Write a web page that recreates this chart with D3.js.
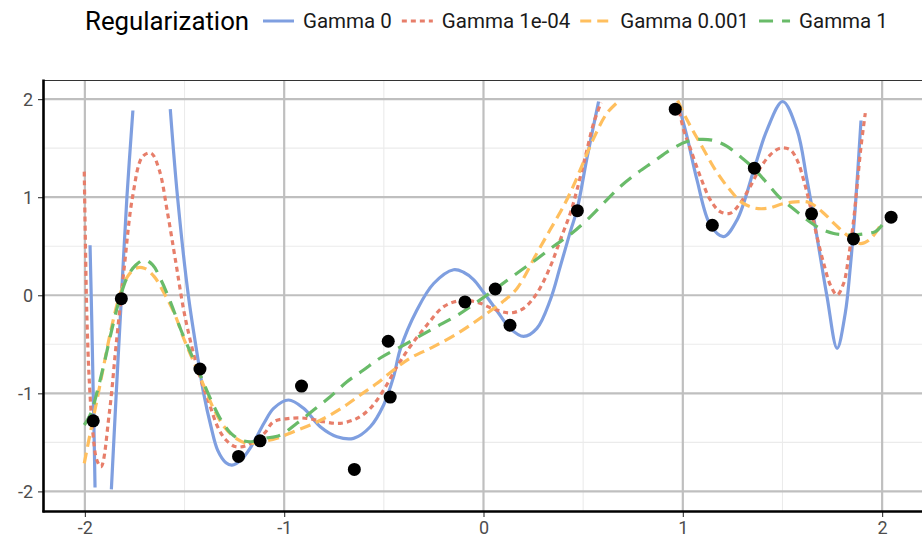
<!DOCTYPE html>
<html>
<head>
<meta charset="utf-8">
<script src="https://cdn.jsdelivr.net/npm/d3@7"></script>
<style>
  body { margin: 0; background: #fff; }
  text { font-family: Roboto, "Liberation Sans", sans-serif; }
</style>
</head>
<body>
<script>
// observed data points
const obsX = [-1.958, -1.817, -1.4225, -1.229, -1.121, -0.913, -0.648, -0.478, -0.468, -0.093,
              0.059, 0.133, 0.471, 0.962, 1.148, 1.359, 1.646, 1.856, 2.045];
const obsY = [-1.28, -0.035, -0.752, -1.643, -1.484, -0.926, -1.776, -0.469, -1.038, -0.068,
              0.064, -0.306, 0.863, 1.898, 0.714, 1.296, 0.83, 0.574, 0.796];

// fitted curves (null = curve leaves the y range)
const gamma0 = [
  [-1.974, 0.51], [-1.966, -0.2], [-1.958, -1.0], [-1.953, -1.5], [-1.949, -1.96], null,
  [-1.867, -1.98], [-1.8425, -1.0], [-1.817, -0.035], [-1.789, 1.0], [-1.759, 1.884], null,
  [-1.5715, 1.898], [-1.535, 1.0], [-1.481, 0.0], [-1.4245, -0.752], [-1.404, -1.0], [-1.367, -1.341],
  [-1.334, -1.579], [-1.292, -1.708], [-1.262, -1.732], [-1.217, -1.681], [-1.1665, -1.545],
  [-1.1, -1.3], [-1.053, -1.153], [-0.978, -1.068], [-0.9025, -1.153], [-0.819, -1.341],
  [-0.735, -1.443], [-0.652, -1.459], [-0.568, -1.341], [-0.501, -1.119], [-0.451, -0.83],
  [-0.4175, -0.55], [-0.334, -0.15], [-0.25, 0.12], [-0.15, 0.26], [-0.1, 0.235], [-0.05, 0.16],
  [0.0, 0.03], [0.068, -0.16], [0.1345, -0.34], [0.201, -0.42], [0.268, -0.337], [0.335, -0.048],
  [0.385, 0.292], [0.4355, 0.649], [0.469, 0.87], [0.519, 1.398], [0.5775, 1.976], null,
  [0.976, 1.959], [1.021, 1.618], [1.071, 1.177], [1.138, 0.717], [1.205, 0.598], [1.272, 0.768],
  [1.359, 1.296], [1.4225, 1.687], [1.501, 1.976], [1.573, 1.687], [1.623, 1.177], [1.673, 0.598],
  [1.7235, -0.014], [1.774, -0.541], [1.815, -0.184], [1.8405, 0.292], [1.8655, 0.904], [1.894, 1.782]
];
const gamma1e4 = [
  [-2.003, 1.261], [-1.997, 0.5], [-1.99, -0.2], [-1.978, -0.864], [-1.96, -1.4], [-1.94, -1.68],
  [-1.919, -1.749], [-1.8775, -1.204], [-1.844, -0.524], [-1.802, 0.292], [-1.7605, 1.006],
  [-1.7105, 1.414], [-1.668, 1.449], [-1.627, 1.279], [-1.585, 0.837], [-1.543, 0.327],
  [-1.501, -0.184], [-1.451, -0.626], [-1.4175, -0.864], [-1.376, -1.102], [-1.334, -1.341],
  [-1.292, -1.476], [-1.242, -1.545], [-1.184, -1.528], [-1.1, -1.408], [-1.053, -1.29],
  [-0.969, -1.255], [-0.886, -1.255], [-0.802, -1.29], [-0.719, -1.306], [-0.635, -1.255],
  [-0.568, -1.153], [-0.501, -0.966], [-0.434, -0.728], [-0.367, -0.52], [-0.2835, -0.303],
  [-0.2, -0.116], [-0.116, -0.055], [-0.033, -0.07], [0.051, -0.14], [0.1345, -0.18], [0.201, -0.133],
  [0.268, 0.02], [0.335, 0.292], [0.385, 0.564], [0.4355, 0.837], [0.469, 1.074], [0.511, 1.414],
  [0.5525, 1.755], [0.59, 1.965], null,
  [0.974, 1.965], [1.004, 1.687], [1.037, 1.5], [1.088, 1.21], [1.138, 0.972], [1.187, 0.853],
  [1.238, 0.837], [1.288, 0.939], [1.338, 1.108], [1.388, 1.296], [1.4385, 1.432], [1.4885, 1.5],
  [1.539, 1.483], [1.573, 1.381], [1.606, 1.177], [1.64, 0.904], [1.673, 0.598], [1.7065, 0.327],
  [1.74, 0.105], [1.774, 0.003], [1.807, 0.122], [1.832, 0.394], [1.857, 0.768], [1.874, 1.108],
  [1.894, 1.516], [1.9155, 1.857]
];
const gamma1e3 = [
  [-2.003, -1.714], [-1.97, -1.374], [-1.936, -1.035], [-1.903, -0.694], [-1.869, -0.354],
  [-1.827, -0.014], [-1.786, 0.19], [-1.744, 0.276], [-1.702, 0.276], [-1.652, 0.19], [-1.602, 0.02],
  [-1.551, -0.184], [-1.501, -0.456], [-1.451, -0.694], [-1.401, -0.933], [-1.351, -1.17],
  [-1.301, -1.341], [-1.242, -1.459], [-1.184, -1.51], [-1.117, -1.494], [-1.036, -1.459],
  [-0.953, -1.391], [-0.869, -1.323], [-0.785, -1.239], [-0.702, -1.137], [-0.618, -1.017],
  [-0.534, -0.898], [-0.451, -0.762], [-0.367, -0.64], [-0.25, -0.524], [-0.116, -0.371],
  [0.0, -0.21], [0.1, -0.06], [0.168, 0.07], [0.268, 0.43], [0.335, 0.67], [0.402, 0.91],
  [0.452, 1.12], [0.502, 1.36], [0.5525, 1.6], [0.6195, 1.857], [0.686, 1.993], null,
  [0.974, 1.986], [1.021, 1.789], [1.096, 1.517], [1.163, 1.279], [1.23, 1.09], [1.296, 0.947],
  [1.363, 0.888], [1.43, 0.888], [1.497, 0.93], [1.565, 0.952], [1.632, 0.947], [1.7, 0.85],
  [1.765, 0.72], [1.832, 0.6], [1.891, 0.527], [1.941, 0.573], [2.0, 0.743]
];
const gamma1 = [
  [-2.003, -1.323], [-1.97, -1.204], [-1.936, -0.966], [-1.903, -0.694], [-1.869, -0.388],
  [-1.827, -0.048], [-1.786, 0.19], [-1.744, 0.309], [-1.702, 0.36], [-1.66, 0.309], [-1.618, 0.156],
  [-1.568, -0.082], [-1.518, -0.354], [-1.468, -0.592], [-1.4175, -0.83], [-1.367, -1.068],
  [-1.317, -1.272], [-1.267, -1.408], [-1.217, -1.476], [-1.1665, -1.494], [-1.1, -1.46],
  [-1.0195, -1.426], [-0.936, -1.306], [-0.8525, -1.17], [-0.769, -1.035], [-0.685, -0.882],
  [-0.602, -0.762], [-0.518, -0.64], [-0.384, -0.49], [-0.25, -0.337], [-0.116, -0.184],
  [0.0175, 0.003], [0.185, 0.25], [0.268, 0.37], [0.352, 0.5], [0.4355, 0.62], [0.519, 0.768],
  [0.6025, 0.939], [0.686, 1.108], [0.77, 1.245], [0.8535, 1.363], [0.937, 1.483], [1.021, 1.567],
  [1.088, 1.59], [1.155, 1.578], [1.222, 1.517], [1.288, 1.414], [1.355, 1.296], [1.4225, 1.143],
  [1.489, 0.99], [1.556, 0.88], [1.623, 0.77], [1.69, 0.68], [1.757, 0.63], [1.8405, 0.615],
  [1.907, 0.626], [1.966, 0.649], [2.0, 0.717]
];

const seriesNames = ["Gamma 0", "Gamma 1e-04", "Gamma 0.001", "Gamma 1"];
const seriesData = [gamma0, gamma1e4, gamma1e3, gamma1];
const seriesColors = ["#7f9fe0", "#e77e6a", "#ffbf5e", "#69bb69"];
const seriesDash = [null, "5,4", "11,6", "14,9"];

const xTicks = [-2, -1, 0, 1, 2];
const yTicks = [-2, -1, 0, 1, 2];
const xMinor = [-1.5, -0.5, 0.5, 1.5];
const yMinor = [-1.5, -0.5, 0.5, 1.5];

const W = 922, H = 539;
const svg = d3.select("body").append("svg").attr("width", W).attr("height", H);

const x = d3.scaleLinear().domain([-2.205, 2.2]).range([44, 922]);
const y = d3.scaleLinear().domain([-2.2, 2.19]).range([511, 80.5]);

// grid
const grid = svg.append("g");
grid.selectAll(".vmin").data(xMinor).join("line")
  .attr("x1", d => x(d)).attr("x2", d => x(d)).attr("y1", 80.5).attr("y2", 511)
  .attr("stroke", "#ebebeb").attr("stroke-width", 1.1);
grid.selectAll(".hmin").data(yMinor).join("line")
  .attr("x1", 44).attr("x2", W).attr("y1", d => y(d)).attr("y2", d => y(d))
  .attr("stroke", "#ebebeb").attr("stroke-width", 1.1);
grid.selectAll(".vmaj").data(xTicks).join("line")
  .attr("x1", d => x(d)).attr("x2", d => x(d)).attr("y1", 80.5).attr("y2", 511)
  .attr("stroke", "#bfbfbf").attr("stroke-width", 2.2);
grid.selectAll(".hmaj").data(yTicks).join("line")
  .attr("x1", 44).attr("x2", W).attr("y1", d => y(d)).attr("y2", d => y(d))
  .attr("stroke", "#bfbfbf").attr("stroke-width", 2.2);

// top border
svg.append("line").attr("x1", 44).attr("x2", W).attr("y1", 80.5).attr("y2", 80.5)
  .attr("stroke", "#333").attr("stroke-width", 1.2);

// curves
const line = d3.line()
  .defined(d => d !== null)
  .x(d => x(d[0])).y(d => y(d[1]))
  .curve(d3.curveCatmullRom.alpha(0.5));

svg.append("g").selectAll("path").data(seriesData).join("path")
  .attr("d", d => line(d))
  .attr("fill", "none")
  .attr("stroke", (d, i) => seriesColors[i])
  .attr("stroke-width", 3.2)
  .attr("stroke-dasharray", (d, i) => seriesDash[i])
  .attr("stroke-linejoin", "round");

// points
svg.append("g").selectAll("circle").data(obsX).join("circle")
  .attr("cx", d => x(d)).attr("cy", (d, i) => y(obsY[i]))
  .attr("r", 6.5).attr("fill", "#000");

// axes
const xAxis = svg.append("g").attr("transform", "translate(0,511)")
  .call(d3.axisBottom(x).tickValues(xTicks).tickSize(6).tickPadding(4).tickFormat(d => String(d)));
const yAxis = svg.append("g").attr("transform", "translate(44,0)")
  .call(d3.axisLeft(y).tickValues(yTicks).tickSize(6).tickPadding(5).tickFormat(d => String(d)));
[xAxis, yAxis].forEach(g => {
  g.select(".domain").remove();
  g.selectAll(".tick line").attr("stroke", "#333").attr("stroke-width", 1.1);
  g.selectAll(".tick text").attr("fill", "#4d4d4d").style("font-size", "18px")
    .style("font-family", "Roboto, sans-serif");
});
yAxis.selectAll(".tick text").attr("dy", "0.36em");

// axis lines
svg.append("line").attr("x1", 43.5).attr("x2", 43.5).attr("y1", 79.5).attr("y2", 512.5)
  .attr("stroke", "#000").attr("stroke-width", 2.6);
svg.append("line").attr("x1", 42.5).attr("x2", W).attr("y1", 511.5).attr("y2", 511.5)
  .attr("stroke", "#000").attr("stroke-width", 2.6);

// legend
const leg = svg.append("g");
leg.append("text").attr("x", 85).attr("y", 21).attr("dy", "0.35em")
  .style("font-size", "25.8px").attr("fill", "#000").text("Regularization");

let kx = 263;
seriesNames.forEach((name, i) => {
  leg.append("line").attr("x1", kx).attr("x2", kx + 31).attr("y1", 21).attr("y2", 21)
    .attr("stroke", seriesColors[i]).attr("stroke-width", 3)
    .attr("stroke-dasharray", seriesDash[i]);
  const t = leg.append("text").attr("x", kx + 40).attr("y", 21).attr("dy", "0.35em")
    .style("font-size", "20.5px").attr("fill", "#1a1a1a").text(name);
  kx += 40 + t.node().getComputedTextLength() + 10;
});
</script>
</body>
</html>
